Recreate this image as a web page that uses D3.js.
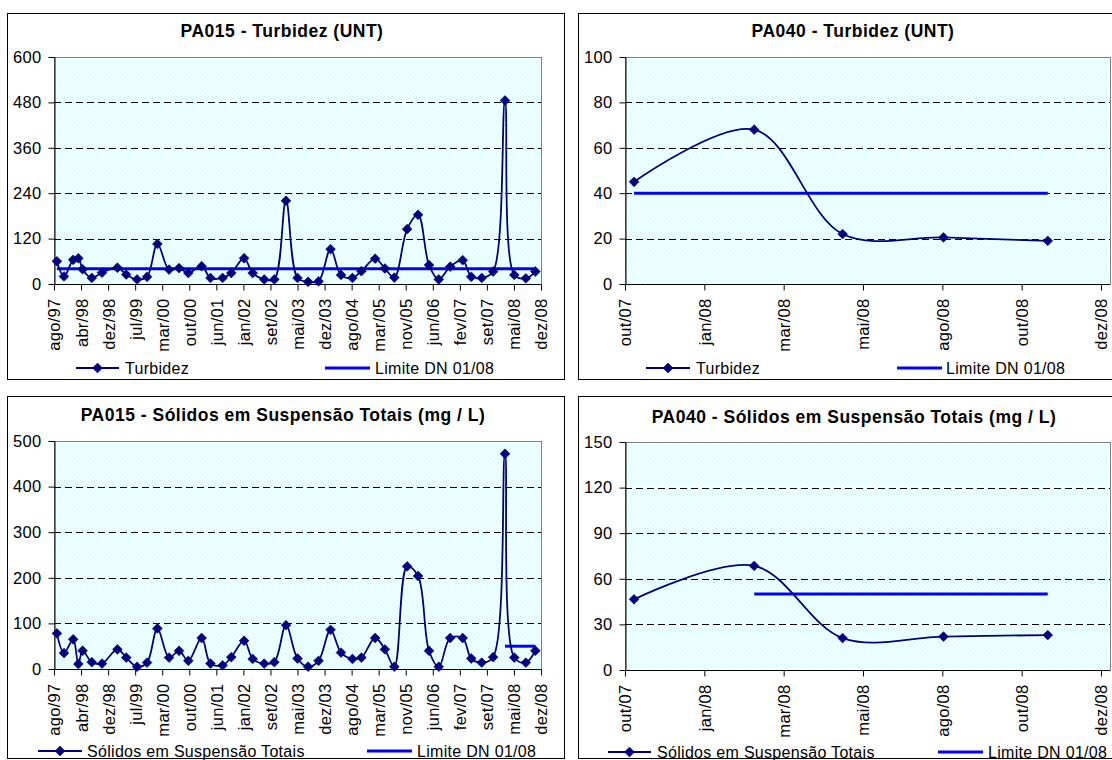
<!DOCTYPE html>
<html>
<head>
<meta charset="utf-8">
<script src="https://cdn.jsdelivr.net/npm/d3@7"></script>
<style>
  html, body { margin: 0; padding: 0; background: #fff; }
  svg { display: block; }
  text { font-family: Arial, "Liberation Sans", sans-serif; fill: #000; }
</style>
</head>
<body>
<svg id="chart" width="1112" height="760"></svg>
<script>
// ---------------- DATA ----------------
// PA015 sampling dates (shared by both PA015 charts)
const pa015Dates = [
  "1997-09-25","1997-11-24","1998-02-10","1998-03-26","1998-05-01","1998-07-18","1998-10-13",
  "1999-02-21","1999-05-07","1999-08-07","1999-10-31","2000-01-27","2000-05-05","2000-07-29",
  "2000-10-16","2001-02-06","2001-04-22","2001-08-03","2001-10-16","2002-02-02","2002-04-16",
  "2002-07-23","2002-10-17","2003-01-24","2003-05-02","2003-07-31","2003-10-28","2004-02-07",
  "2004-05-06","2004-08-11","2004-10-26","2005-02-20","2005-05-14","2005-08-02","2005-11-19",
  "2006-02-20","2006-05-24","2006-08-15","2006-11-20","2007-03-06","2007-05-18","2007-08-15",
  "2007-11-20","2008-02-29","2008-05-18","2008-08-24","2008-11-13"
];
const pa015Turbidez = [
  60, 20, 64, 68, 39, 16, 30, 43, 25, 12, 19, 106, 38, 42, 29, 47, 16, 16, 29, 68, 29, 12, 12,
  220, 16, 6, 7, 92, 24, 16, 34, 67, 41, 17, 145, 183, 50, 12, 46, 63, 19, 16, 33, 485, 24, 15, 33
];
const pa015Solidos = [
  78, 35, 65, 11, 40, 15, 12, 43, 25, 5, 14, 89, 25, 40, 18, 68, 12, 8, 26, 62, 22, 12, 15,
  96, 23, 5, 18, 86, 36, 22, 25, 68, 43, 5, 225, 204, 40, 5, 68, 68, 23, 14, 26, 472, 25, 14, 40
];
// Limit series (DN 01/08); null = no value for that date
const pa015LimiteTurbidez = pa015Dates.map(() => 40);
const pa015LimiteSolidos = pa015Dates.map(d => d >= "2008-02-29" ? 50 : null);
const pa015TickLabels = ["ago/97","abr/98","dez/98","jul/99","mar/00","out/00","jun/01","jan/02",
  "set/02","mai/03","dez/03","ago/04","mar/05","nov/05","jun/06","fev/07","set/07","mai/08","dez/08"];
const pa015AxisStart = "1997-08-31";
const pa015AxisStepDays = 230;

const pa040Dates = ["2007-11-05","2008-02-19","2008-05-07","2008-08-04","2008-11-04"];
const pa040Turbidez = [45, 68, 22, 20.5, 19];
const pa040Solidos = [46.5, 68.5, 21, 22, 23];
const pa040LimiteTurbidez = [40, 40, 40, 40, 40];
const pa040LimiteSolidos = [null, 50, 50, 50, 50];
const pa040TickLabels = ["out/07","jan/08","mar/08","mai/08","ago/08","out/08","dez/08"];
const pa040AxisStart = "2007-10-28";
const pa040AxisStepDays = 70;

// ---------------- DRAWING ----------------
const svg = d3.select("#chart");
const parse = d3.timeParse("%Y-%m-%d");
const DAY = 864e5;

const defs = svg.append("defs");
const pat = defs.append("pattern").attr("id", "dots")
  .attr("patternUnits", "userSpaceOnUse").attr("width", 4).attr("height", 4);
pat.append("rect").attr("width", 4).attr("height", 4).attr("fill", "#fff");
pat.append("rect").attr("x", 0).attr("y", 0).attr("width", 1).attr("height", 1).attr("fill", "#ccffff");
pat.append("rect").attr("x", 2).attr("y", 2).attr("width", 1).attr("height", 1).attr("fill", "#ccffff");

const NAVY = "#000080", BLUE = "#0000ff";

function drawPanel(c) {
  const g = svg.append("g");
  // chart frame
  g.append("rect").attr("x", c.box[0] + 0.5).attr("y", c.box[1] + 0.5)
    .attr("width", c.box[2]).attr("height", c.box[3])
    .attr("fill", "#fff").attr("stroke", "#000").attr("stroke-width", 1);

  const start = parse(c.axisStart);
  const nSteps = c.tickLabels.length - 1;
  const end = new Date(+start + nSteps * c.stepDays * DAY);
  const x = d3.scaleTime().domain([start, end]).range([c.px0, c.px1]);
  const y = d3.scaleLinear().domain([0, c.yMax]).range([c.pyBottom, c.pyTop]);
  const tickDates = d3.range(nSteps + 1).map(i => new Date(+start + i * c.stepDays * DAY));
  const yTicks = d3.range(0, c.yMax + c.yStep / 2, c.yStep);

  // plot area
  g.append("rect").attr("x", c.px0 + 0.5).attr("y", c.pyTop + 0.5)
    .attr("width", c.plotRight - c.px0).attr("height", c.pyBottom - c.pyTop)
    .attr("fill", "url(#dots)").attr("stroke", "#808080").attr("stroke-width", 1);

  // gridlines
  g.append("g").selectAll("line").data(yTicks.filter(v => v > 0 && v < c.yMax)).join("line")
    .attr("x1", c.px0).attr("x2", c.plotRight)
    .attr("y1", d => Math.round(y(d)) + 0.5).attr("y2", d => Math.round(y(d)) + 0.5)
    .attr("stroke", "#000").attr("stroke-width", 1).attr("stroke-dasharray", "7,4");

  // title
  g.append("text").attr("x", c.titleX).attr("y", c.titleY).attr("text-anchor", "middle")
    .style("font-size", "17.5px").style("font-weight", "bold").style("letter-spacing", "0.5px")
    .text(c.title);

  // y axis
  const ya = g.append("g").attr("transform", `translate(${c.px0 + 0.5},0)`)
    .call(d3.axisLeft(y).tickValues(yTicks).tickSize(6).tickSizeOuter(0).tickPadding(7).tickFormat(d3.format("d")));
  ya.select(".domain").attr("stroke", "#000");
  ya.selectAll(".tick line").attr("stroke", "#000");
  ya.selectAll("text").style("font-size", "16.5px").style("letter-spacing", "0.3px").attr("font-family", null);

  // x axis
  const xa = g.append("g").attr("transform", `translate(0,${c.pyBottom + 0.5})`)
    .call(d3.axisBottom(x).tickValues(tickDates).tickSize(6).tickSizeOuter(0)
      .tickFormat((d, i) => c.tickLabels[i]));
  xa.select(".domain").attr("d", `M${c.px0},0H${c.plotRight}`).attr("stroke", "#000");
  xa.selectAll(".tick line").attr("stroke", "#000");
  xa.selectAll("text").attr("transform", "rotate(-90)").attr("text-anchor", "end")
    .attr("x", -14).attr("y", 0).attr("dy", "0.36em")
    .style("font-size", "16.5px").style("letter-spacing", "0.3px").attr("font-family", null);

  const pts = c.dates.map((d, i) => ({ date: parse(d), v: c.values[i], lim: c.limit[i] }));
  const curve = d3.curveCatmullRom.alpha(0.5);

  // limit line
  const limPts = pts.filter(p => p.lim != null);
  g.append("path").datum(limPts)
    .attr("d", d3.line().x(p => x(p.date)).y(p => y(p.lim)))
    .attr("fill", "none").attr("stroke", BLUE).attr("stroke-width", 3);

  // data series (smoothed)
  g.append("path").datum(pts)
    .attr("d", d3.line().x(p => x(p.date)).y(p => y(p.v)).curve(curve))
    .attr("fill", "none").attr("stroke", NAVY).attr("stroke-width", 1.8);

  const sym = d3.symbol().type(d3.symbolSquare).size(48);
  g.append("g").selectAll("path").data(pts).join("path")
    .attr("d", sym)
    .attr("transform", p => `translate(${x(p.date)},${y(p.v)}) rotate(45)`)
    .attr("fill", NAVY).attr("stroke", NAVY).attr("stroke-width", 0.6);

  // legend
  const L = c.legend;
  const lg = g.append("g");
  lg.append("line").attr("x1", L.s1[0]).attr("x2", L.s1[1]).attr("y1", L.y).attr("y2", L.y)
    .attr("stroke", NAVY).attr("stroke-width", 1.8);
  lg.append("path").attr("d", sym)
    .attr("transform", `translate(${(L.s1[0] + L.s1[1]) / 2},${L.y}) rotate(45)`)
    .attr("fill", NAVY).attr("stroke", NAVY).attr("stroke-width", 0.6);
  lg.append("text").attr("x", L.t1).attr("y", L.y + 6).style("font-size", "16px")
    .style("letter-spacing", "0.3px").text(c.seriesName);
  lg.append("line").attr("x1", L.s2[0]).attr("x2", L.s2[1]).attr("y1", L.y).attr("y2", L.y)
    .attr("stroke", BLUE).attr("stroke-width", 3);
  lg.append("text").attr("x", L.t2).attr("y", L.y + 6).style("font-size", "16px")
    .style("letter-spacing", "0.3px").text("Limite DN 01/08");
}

drawPanel({
  box: [7, 13, 557, 366], px0: 54, px1: 541, plotRight: 541, pyTop: 57, pyBottom: 284,
  title: "PA015 - Turbidez (UNT)", titleX: 282, titleY: 37,
  yMax: 600, yStep: 120, axisStart: pa015AxisStart, stepDays: pa015AxisStepDays,
  tickLabels: pa015TickLabels, dates: pa015Dates, values: pa015Turbidez, limit: pa015LimiteTurbidez,
  seriesName: "Turbidez",
  legend: { y: 368, s1: [76, 119], t1: 125, s2: [325, 370], t2: 375 }
});
drawPanel({
  box: [578, 13, 552, 366], px0: 625, px1: 1101, plotRight: 1110, pyTop: 57, pyBottom: 284,
  title: "PA040 - Turbidez (UNT)", titleX: 853, titleY: 37,
  yMax: 100, yStep: 20, axisStart: pa040AxisStart, stepDays: pa040AxisStepDays,
  tickLabels: pa040TickLabels, dates: pa040Dates, values: pa040Turbidez, limit: pa040LimiteTurbidez,
  seriesName: "Turbidez",
  legend: { y: 368, s1: [646, 690], t1: 696, s2: [897, 942], t2: 946 }
});
drawPanel({
  box: [7, 396, 557, 362], px0: 54, px1: 541, plotRight: 541, pyTop: 441, pyBottom: 669,
  title: "PA015 - Sólidos em Suspensão Totais (mg / L)", titleX: 283, titleY: 421,
  yMax: 500, yStep: 100, axisStart: pa015AxisStart, stepDays: pa015AxisStepDays,
  tickLabels: pa015TickLabels, dates: pa015Dates, values: pa015Solidos, limit: pa015LimiteSolidos,
  seriesName: "Sólidos em Suspensão Totais",
  legend: { y: 751, s1: [38, 82], t1: 87, s2: [367, 412], t2: 417 }
});
drawPanel({
  box: [578, 396, 552, 362], px0: 625, px1: 1101, plotRight: 1110, pyTop: 442, pyBottom: 670,
  title: "PA040 - Sólidos em Suspensão Totais (mg / L)", titleX: 854, titleY: 423,
  yMax: 150, yStep: 30, axisStart: pa040AxisStart, stepDays: pa040AxisStepDays,
  tickLabels: pa040TickLabels, dates: pa040Dates, values: pa040Solidos, limit: pa040LimiteSolidos,
  seriesName: "Sólidos em Suspensão Totais",
  legend: { y: 752, s1: [608, 651], t1: 657, s2: [938, 983], t2: 988 }
});
</script>
</body>
</html>
